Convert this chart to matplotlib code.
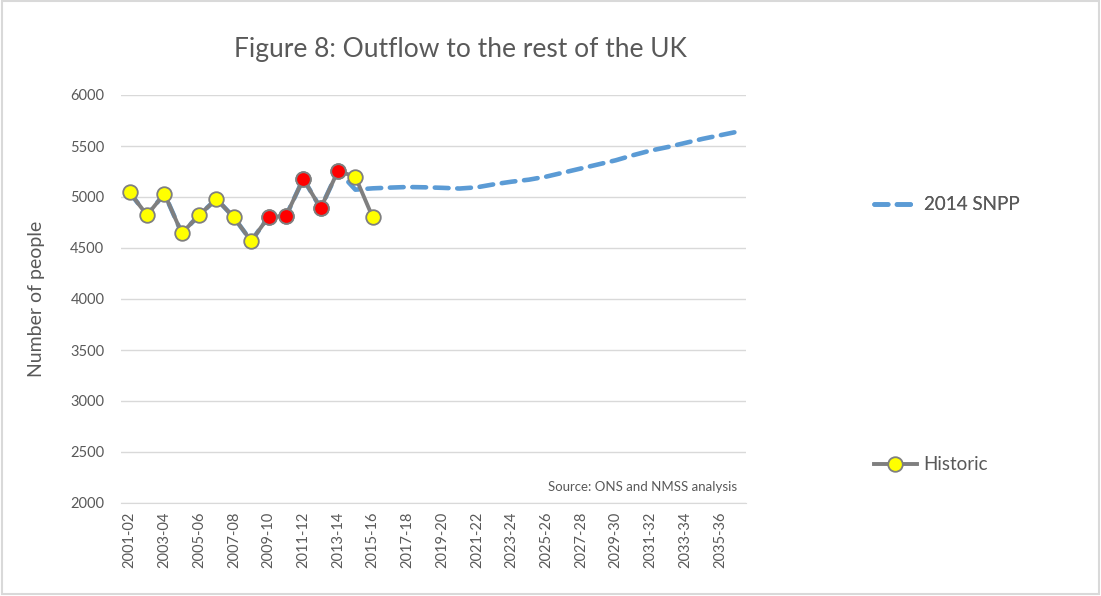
import numpy as np
import matplotlib.pyplot as plt
from matplotlib.patches import Rectangle

plt.rcParams['font.family'] = ['Lato', 'DejaVu Sans']

# Financial years 2001-02 .. 2036-37
years = ['%d-%02d' % (y, (y + 1) % 100) for y in range(2001, 2037)]

historic = [5045, 4822, 5033, 4645, 4822, 4981, 4800, 4568, 4806, 4813,
            5178, 4890, 5256, 5198, 4800]
# highlighted years in the historic series
highlight = [0, 0, 0, 0, 0, 0, 0, 0, 1, 1, 1, 1, 1, 0, 0]

# 2014-based projection, joined onto the historic run up to 2013-14
snpp = historic[:13] + [5072, 5085, 5092, 5098, 5095, 5090, 5083, 5095, 5125,
                        5150, 5170, 5200, 5240, 5280, 5320, 5360, 5410, 5455,
                        5490, 5530, 5570, 5605, 5640]

grey = '#595959'
fig = plt.figure(figsize=(11.01, 5.96), dpi=100)
ax = fig.add_axes([121 / 1101, 1 - 503 / 596, 625 / 1101, 408 / 596])

x = np.arange(len(years))
l_snpp, = ax.plot(x[:len(snpp)], snpp, color='#5B9BD5', lw=3.3,
                  dashes=(3.0, 1.9), dash_capstyle='round', zorder=2,
                  label='2014 SNPP')
l_hist, = ax.plot(x[:len(historic)], historic, color='#7F7F7F', lw=2.8,
                  marker='o', ms=10.5, mfc='#FFFF00', mec='#7F7F7F', mew=1.3,
                  zorder=3, label='Historic')
hx = [i for i, h in enumerate(highlight) if h]
ax.plot(hx, [historic[i] for i in hx], ls='none', marker='o', ms=10.5,
        mfc='#FF0000', mec='#7F7F7F', mew=1.3, zorder=4)

ax.set_xlim(-0.5, len(years) - 0.5)
ax.set_ylim(2000, 6000)
ax.set_yticks(range(2000, 6001, 500))
ax.set_xticks(x[::2])
ax.set_xticklabels(years[::2], rotation=90, fontsize=10.5, color=grey)
ax.tick_params(axis='y', labelsize=10.5, labelcolor=grey, length=0, pad=12)
ax.tick_params(axis='x', length=0, pad=6)
ax.grid(axis='y', color='#D9D9D9', lw=1)
ax.set_axisbelow(True)
for s in ['top', 'right', 'left']:
    ax.spines[s].set_visible(False)
ax.spines['bottom'].set_color('#D9D9D9')

ax.set_ylabel('Number of people', fontsize=14, color=grey, labelpad=18)
fig.text(460 / 1101, 1 - 50 / 596, 'Figure 8: Outflow to the rest of the UK',
         fontsize=19, color=grey, ha='center', va='center')
ax.text(0.985, 0.04, 'Source: ONS and NMSS analysis', transform=ax.transAxes,
        fontsize=9.5, color=grey, ha='right', va='center')

leg1 = fig.legend(handles=[l_snpp], loc='center left', frameon=False,
                  bbox_to_anchor=(857 / 1101, 1 - 205 / 596), fontsize=13.5,
                  labelcolor=grey, handlelength=2.3, handletextpad=0.35)
fig.add_artist(leg1)
fig.legend(handles=[l_hist], loc='center left', frameon=False,
           bbox_to_anchor=(857 / 1101, 1 - 465 / 596), fontsize=13.5,
           labelcolor=grey, handlelength=2.3, handletextpad=0.35)

fig.add_artist(Rectangle((0.002, 0.004), 0.996, 0.994, transform=fig.transFigure,
                         fill=False, edgecolor='#D9D9D9', lw=1.5))

fig.savefig('out.png', dpi=100)
